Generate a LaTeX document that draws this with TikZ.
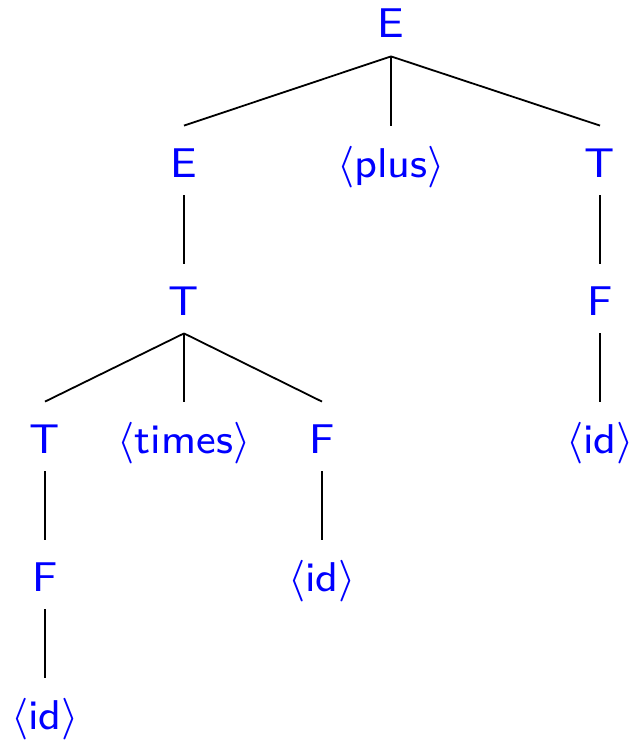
\documentclass[tikz,border=0pt]{standalone}
\usepackage{graphicx}
\newcommand{\symtext}[1]{\scalebox{2.6}{#1}}
\begin{document}
\begin{tikzpicture}[x=0.5pt,y=-0.5pt,
  sym/.style={text=blue, font=\sffamily\fontsize{8}{10}\selectfont,
    inner sep=0pt, text height=25.5pt, text depth=9pt, anchor=base},
  edge/.style={draw=black, line width=0.9pt}]
\useasboundingbox (0,0) rectangle (632,744);
% grammar symbols, placed by baseline
\node[sym] (e0)    at (391,38)  {\symtext{E}};
\node[sym] (e1)    at (184,177) {\symtext{E}};
\node[sym] (plus)  at (391,177) {\symtext{$\langle$plus$\rangle$}};
\node[sym] (t1)    at (600,177) {\symtext{T}};
\node[sym] (t2)    at (184,315) {\symtext{T}};
\node[sym] (f1)    at (600,315) {\symtext{F}};
\node[sym] (t3)    at (45,453)  {\symtext{T}};
\node[sym] (times) at (184,453) {\symtext{$\langle$times$\rangle$}};
\node[sym] (f2)    at (322,453) {\symtext{F}};
\node[sym] (id1)   at (600,453) {\symtext{$\langle$id$\rangle$}};
\node[sym] (f3)    at (45,591)  {\symtext{F}};
\node[sym] (id2)   at (322,591) {\symtext{$\langle$id$\rangle$}};
\node[sym] (id3)   at (45,729)  {\symtext{$\langle$id$\rangle$}};
% tree edges
\draw[edge] (e0.south) -- (e1.north);
\draw[edge] (e0.south) -- (plus.north);
\draw[edge] (e0.south) -- (t1.north);
\draw[edge] (e1.south) -- (t2.north);
\draw[edge] (t1.south) -- (f1.north);
\draw[edge] (f1.south) -- (id1.north);
\draw[edge] (t2.south) -- (t3.north);
\draw[edge] (t2.south) -- (times.north);
\draw[edge] (t2.south) -- (f2.north);
\draw[edge] (t3.south) -- (f3.north);
\draw[edge] (f3.south) -- (id3.north);
\draw[edge] (f2.south) -- (id2.north);
\end{tikzpicture}
\end{document}
